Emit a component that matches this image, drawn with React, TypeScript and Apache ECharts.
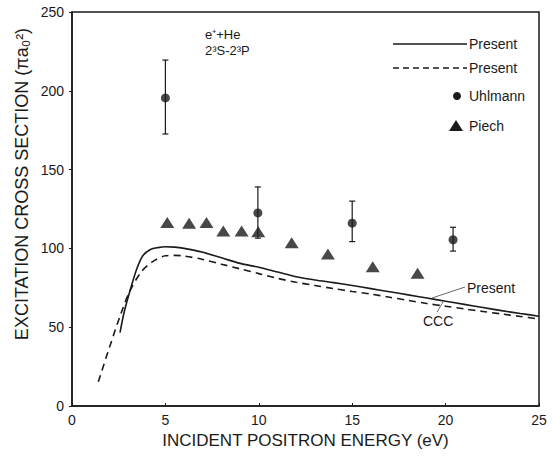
import React, { useEffect, useRef } from "react";
import * as echarts from "echarts";

// Present (solid) curve
const presentX = [2.57, 2.8, 3.2, 3.5, 3.8, 4.2, 4.6, 5.0, 5.5, 6, 7, 8, 9, 10, 11, 12, 13, 14, 15, 16, 17, 18, 19, 20, 21, 22, 23, 24, 25];
const presentY = [46.5, 60, 77, 88, 95.5, 99.3, 100.5, 101, 100.8, 100, 97.5, 94, 90.5, 88, 85, 82, 80, 78.3, 76.5, 74.5, 72.5, 70.5, 68.5, 66.5, 64.5, 62.5, 60.5, 58.7, 57];
// CCC / second Present (dashed) curve
const cccX = [1.41, 2.0, 2.6, 3.1, 3.7, 4.3, 5.0, 5.5, 6, 7, 8, 9, 10, 11, 12, 13, 14, 15, 16, 17, 18, 19, 20, 21, 22, 23, 24, 25];
const cccY = [15.4, 37, 58, 73, 85, 91.5, 95.3, 95.6, 95.2, 93, 90, 87, 84, 81, 78.5, 76.5, 74.5, 72.7, 71, 69, 67, 65, 63.3, 61.6, 60, 58.4, 56.8, 55.2];
// Uhlmann data with error bars
const uhlX = [5, 9.95, 15, 20.4];
const uhlY = [195.5, 122.5, 116, 105.5];
const uhlLow = [172.6, 106.5, 104.3, 98.3];
const uhlHigh = [219.5, 139, 130, 113.4];
// Piech data
const piechX = [5.1, 6.27, 7.2, 8.1, 9.08, 9.97, 11.76, 13.7, 16.1, 18.5];
const piechY = [116.5, 116, 116.5, 111, 111, 110.6, 103.6, 96.4, 88.4, 84.2];

const xTicks = [0, 5, 10, 15, 20, 25];
const yTicks = [0, 50, 100, 150, 200, 250];

const FONT = "'Liberation Sans', Arial, sans-serif";
const INK = "#1a1a1a";

export default function App() {
  const ref = useRef<HTMLDivElement>(null);
  useEffect(() => {
    if (!ref.current) return;
    const chart = echarts.init(ref.current, null, { renderer: "svg" });
    const zip = (xs: number[], ys: number[]) => xs.map((x, i) => [x, ys[i]]);
    const option: any = {
      animation: false,
      backgroundColor: "#ffffff",
      textStyle: { fontFamily: FONT },
      grid: {
        left: 72, right: 14, top: 12, bottom: 58,
        show: true, borderColor: INK, borderWidth: 1.5, backgroundColor: "transparent",
      },
      xAxis: {
        type: "value",
        min: xTicks[0], max: xTicks[xTicks.length - 1], interval: 5,
        name: "INCIDENT POSITRON ENERGY (eV)",
        nameLocation: "middle", nameGap: 26,
        nameTextStyle: { fontSize: 17, color: INK, fontFamily: FONT },
        axisLine: { show: true, lineStyle: { color: INK, width: 1.5 } },
        axisTick: { show: true, inside: true, length: 3, lineStyle: { color: INK } },
        axisLabel: { fontSize: 14, color: INK, margin: 7, fontFamily: FONT },
        splitLine: { show: false },
      },
      yAxis: {
        type: "value",
        min: yTicks[0], max: yTicks[yTicks.length - 1], interval: 50,
        axisLine: { show: true, lineStyle: { color: INK, width: 1.5 } },
        axisTick: { show: true, inside: false, length: 3, lineStyle: { color: INK } },
        axisLabel: { fontSize: 14, color: INK, margin: 8, fontFamily: FONT },
        splitLine: { show: false },
      },
      series: [
        {
          name: "Present", type: "line", data: zip(presentX, presentY),
          smooth: 0.3, showSymbol: false, symbol: "none",
          lineStyle: { color: INK, width: 1.6 },
        },
        {
          name: "CCC", type: "line", data: zip(cccX, cccY),
          smooth: 0.3, showSymbol: false, symbol: "none",
          lineStyle: { color: INK, width: 1.6, type: [7, 5] },
        },
        {
          name: "UhlmannErr", type: "custom",
          data: uhlX.map((x, i) => [x, uhlLow[i], uhlHigh[i]]),
          renderItem: (params: any, api: any) => {
            const x = api.value(0);
            const lo = api.coord([x, api.value(1)]);
            const hi = api.coord([x, api.value(2)]);
            const w = 3;
            const st = { stroke: INK, lineWidth: 1.2 };
            return {
              type: "group",
              children: [
                { type: "line", shape: { x1: lo[0], y1: lo[1], x2: hi[0], y2: hi[1] }, style: st },
                { type: "line", shape: { x1: lo[0] - w, y1: lo[1], x2: lo[0] + w, y2: lo[1] }, style: st },
                { type: "line", shape: { x1: hi[0] - w, y1: hi[1], x2: hi[0] + w, y2: hi[1] }, style: st },
              ],
            };
          },
          z: 2,
        },
        {
          name: "Uhlmann", type: "scatter", data: zip(uhlX, uhlY),
          symbol: "circle", symbolSize: 9, itemStyle: { color: INK }, z: 3,
        },
        {
          name: "Piech", type: "scatter", data: zip(piechX, piechY),
          symbol: "triangle", symbolSize: [14, 11], itemStyle: { color: INK }, z: 3,
        },
      ],
      graphic: [
        // y axis title
        {
          type: "text", x: 22, y: 184, rotation: Math.PI / 2,
          style: { text: "EXCITATION CROSS SECTION (πa₀²)", fontSize: 18, fill: INK, fontFamily: FONT, align: "center", verticalAlign: "middle" },
        },
        // title
        { type: "text", left: 205, top: 28, style: { text: "e⁺+He", fontSize: 13, fill: INK, fontFamily: FONT } },
        { type: "text", left: 205, top: 44, style: { text: "2³S-2³P", fontSize: 13, fill: INK, fontFamily: FONT } },
        // legend
        { type: "line", shape: { x1: 393, y1: 44, x2: 467, y2: 44 }, style: { stroke: INK, lineWidth: 1.5 } },
        { type: "text", x: 469, y: 44, style: { text: "Present", fontSize: 14, fill: INK, fontFamily: FONT, verticalAlign: "middle" } },
        { type: "line", shape: { x1: 393, y1: 68, x2: 467, y2: 68 }, style: { stroke: INK, lineWidth: 1.5, lineDash: [6, 4] } },
        { type: "text", x: 469, y: 68, style: { text: "Present", fontSize: 14, fill: INK, fontFamily: FONT, verticalAlign: "middle" } },
        { type: "circle", shape: { cx: 457, cy: 96, r: 4 }, style: { fill: INK } },
        { type: "text", x: 469, y: 96, style: { text: "Uhlmann", fontSize: 14, fill: INK, fontFamily: FONT, verticalAlign: "middle" } },
        { type: "polygon", shape: { points: [[456, 120], [449, 131], [463, 131]] }, style: { fill: INK } },
        { type: "text", x: 469, y: 126, style: { text: "Piech", fontSize: 14, fill: INK, fontFamily: FONT, verticalAlign: "middle" } },
        // annotations
        { type: "line", shape: { x1: 432, y1: 298, x2: 465, y2: 287 }, style: { stroke: "#444", lineWidth: 0.8 } },
        { type: "text", x: 467, y: 288, style: { text: "Present", fontSize: 14, fill: INK, fontFamily: FONT, verticalAlign: "middle" } },
        { type: "line", shape: { x1: 443, y1: 302, x2: 437, y2: 312 }, style: { stroke: "#444", lineWidth: 0.8 } },
        { type: "text", x: 423, y: 321, style: { text: "CCC", fontSize: 14, fill: INK, fontFamily: FONT, verticalAlign: "middle" } },
      ],
    };
    chart.setOption(option);
    return () => chart.dispose();
  }, []);
  return <div ref={ref} style={{ width: 553, height: 464, position: "fixed", left: 0, top: 0 }} />;
}
